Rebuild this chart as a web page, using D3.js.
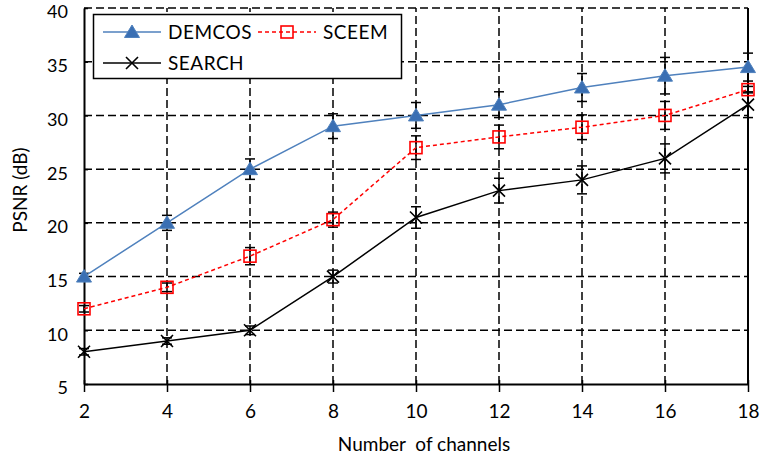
<!DOCTYPE html>
<html>
<head>
<meta charset="utf-8">
<script src="https://cdn.jsdelivr.net/npm/d3@7"></script>
<style>
  html, body { margin: 0; padding: 0; background: #fff; }
  svg text { font-family: Lato, "Liberation Sans", sans-serif; fill: #000; }
</style>
</head>
<body>
<svg id="chart" width="762" height="462"></svg>
<script>
// PSNR versus number of channels, with error bars
const channels = [2, 4, 6, 8, 10, 12, 14, 16, 18];
const demcos    = [15, 20, 25, 29, 30, 31, 32.6, 33.7, 34.5];
const sceem     = [12, 14, 16.9, 20.3, 27, 28, 28.9, 30, 32.4];
const search    = [8, 9, 10, 15, 20.5, 23, 24, 26, 31];
const demcosErr = [0.3, 0.7, 0.95, 1.15, 1.2, 1.2, 1.3, 1.7, 1.3];
const sceemErr  = [0.3, 0.4, 0.8, 0.7, 1.1, 1.1, 1.15, 1.3, 0.3];
const searchErr = [0.3, 0.3, 0.4, 0.6, 1.0, 1.15, 1.3, 1.35, 1.2];
const xTicks = [2, 4, 6, 8, 10, 12, 14, 16, 18];
const yTicks = [5, 10, 15, 20, 25, 30, 35, 40];

const svg = d3.select("#chart");
const x = d3.scaleLinear().domain([2, 18]).range([84, 748]);
const y = d3.scaleLinear().domain([5, 40]).range([384, 8]);

// dashed grid
const grid = svg.append("g").attr("stroke", "#000").attr("stroke-width", 1.5)
  .attr("stroke-dasharray", "8,4");
grid.selectAll("line.h").data(yTicks.filter(d => d > 5)).join("line")
  .attr("x1", x(2)).attr("x2", x(18)).attr("y1", d => y(d)).attr("y2", d => y(d));
grid.selectAll("line.v").data(xTicks.filter(d => d > 2 && d < 18)).join("line")
  .attr("class", "v")
  .attr("y1", y(5)).attr("y2", y(40)).attr("x1", d => x(d)).attr("x2", d => x(d));

// right frame
svg.append("line").attr("x1", x(18)).attr("x2", x(18)).attr("y1", y(40)).attr("y2", y(5))
  .attr("stroke", "#000").attr("stroke-width", 2);

// axes
const xAxis = d3.axisBottom(x).tickValues(xTicks).tickSizeInner(8).tickSizeOuter(0).tickPadding(13);
const yAxis = d3.axisLeft(y).tickValues(yTicks).tickSizeInner(5).tickSizeOuter(0).tickPadding(11);
const gx = svg.append("g").attr("transform", `translate(0,${y(5)})`).call(xAxis);
const gy = svg.append("g").attr("transform", `translate(${x(2)},0)`).call(yAxis);
[gx, gy].forEach(g => {
  g.select(".domain").attr("stroke", "#000").attr("stroke-width", 2);
  g.selectAll(".tick line").attr("stroke", "#000").attr("stroke-width", 1.5);
  g.selectAll(".tick text").attr("font-size", 19).attr("font-family", "Lato, 'Liberation Sans', sans-serif");
});
gx.selectAll(".tick line").attr("y1", -4);
gy.selectAll(".tick line").attr("x2", 4);
gy.selectAll(".tick text").attr("font-size", 18).attr("dy", "0.55em");

// axis titles
svg.append("text").attr("x", 424).attr("y", 451).attr("text-anchor", "middle")
  .attr("font-size", 19).attr("xml:space", "preserve").text("Number  of channels");
svg.append("text").attr("transform", `translate(27,190) rotate(-90)`).attr("text-anchor", "middle")
  .attr("font-size", 19).text("PSNR (dB)");

// series
const series = [
  { name: "DEMCOS", values: demcos, err: demcosErr, color: "#4F81BD", dash: null, marker: "tri" },
  { name: "SCEEM",  values: sceem,  err: sceemErr,  color: "#FF0000", dash: "4,3", marker: "sq" },
  { name: "SEARCH", values: search, err: searchErr, color: "#000000", dash: null, marker: "x" }
];

// error bars
series.forEach(s => {
  const g = svg.append("g").attr("stroke", "#000").attr("stroke-width", 1.5);
  channels.forEach((c, i) => {
    const cx = x(c), lo = y(s.values[i] - s.err[i]), hi = y(s.values[i] + s.err[i]);
    g.append("line").attr("x1", cx).attr("x2", cx).attr("y1", lo).attr("y2", hi);
    g.append("line").attr("x1", cx - 5).attr("x2", cx + 5).attr("y1", lo).attr("y2", lo);
    g.append("line").attr("x1", cx - 5).attr("x2", cx + 5).attr("y1", hi).attr("y2", hi);
  });
});

const line = d3.line().x(d => x(d[0])).y(d => y(d[1]));

function drawMarker(g, type, cx, cy) {
  if (type === "tri") {
    g.append("path").attr("d", `M${cx},${cy - 7}L${cx + 7.5},${cy + 5.5}L${cx - 7.5},${cy + 5.5}Z`)
      .attr("fill", "#3A6FB3").attr("stroke", "#4F81BD").attr("stroke-width", 1);
  } else if (type === "sq") {
    g.append("rect").attr("x", cx - 6).attr("y", cy - 6).attr("width", 12).attr("height", 12)
      .attr("fill", "none").attr("stroke", "#FF0000").attr("stroke-width", 1.6);
  } else {
    g.append("path").attr("d", `M${cx - 6},${cy - 6}L${cx + 6},${cy + 6}M${cx - 6},${cy + 6}L${cx + 6},${cy - 6}`)
      .attr("stroke", "#000").attr("stroke-width", 1.6);
  }
}

series.forEach(s => {
  const pts = channels.map((c, i) => [c, s.values[i]]);
  svg.append("path").attr("d", line(pts)).attr("fill", "none")
    .attr("stroke", s.color).attr("stroke-width", 1.5)
    .attr("stroke-dasharray", s.dash);
  const g = svg.append("g");
  pts.forEach(p => drawMarker(g, s.marker, x(p[0]), y(p[1])));
});

// legend
const lg = svg.append("g");
lg.append("rect").attr("x", 93.5).attr("y", 14.5).attr("width", 308).attr("height", 64)
  .attr("fill", "#fff").attr("stroke", "#000").attr("stroke-width", 1.5);
const legendItems = [
  { s: series[0], lx: 103, ly: 32 },
  { s: series[1], lx: 258, ly: 32 },
  { s: series[2], lx: 103, ly: 63 }
];
legendItems.forEach(it => {
  lg.append("line").attr("x1", it.lx).attr("x2", it.lx + 58).attr("y1", it.ly).attr("y2", it.ly)
    .attr("stroke", it.s.color).attr("stroke-width", 1.5).attr("stroke-dasharray", it.s.dash);
  drawMarker(lg, it.s.marker, it.lx + 29, it.ly);
  lg.append("text").attr("x", it.lx + 65).attr("y", it.ly + 7).attr("font-size", 19)
    .attr("letter-spacing", 0.5).text(it.s.name);
});
</script>
</body>
</html>
